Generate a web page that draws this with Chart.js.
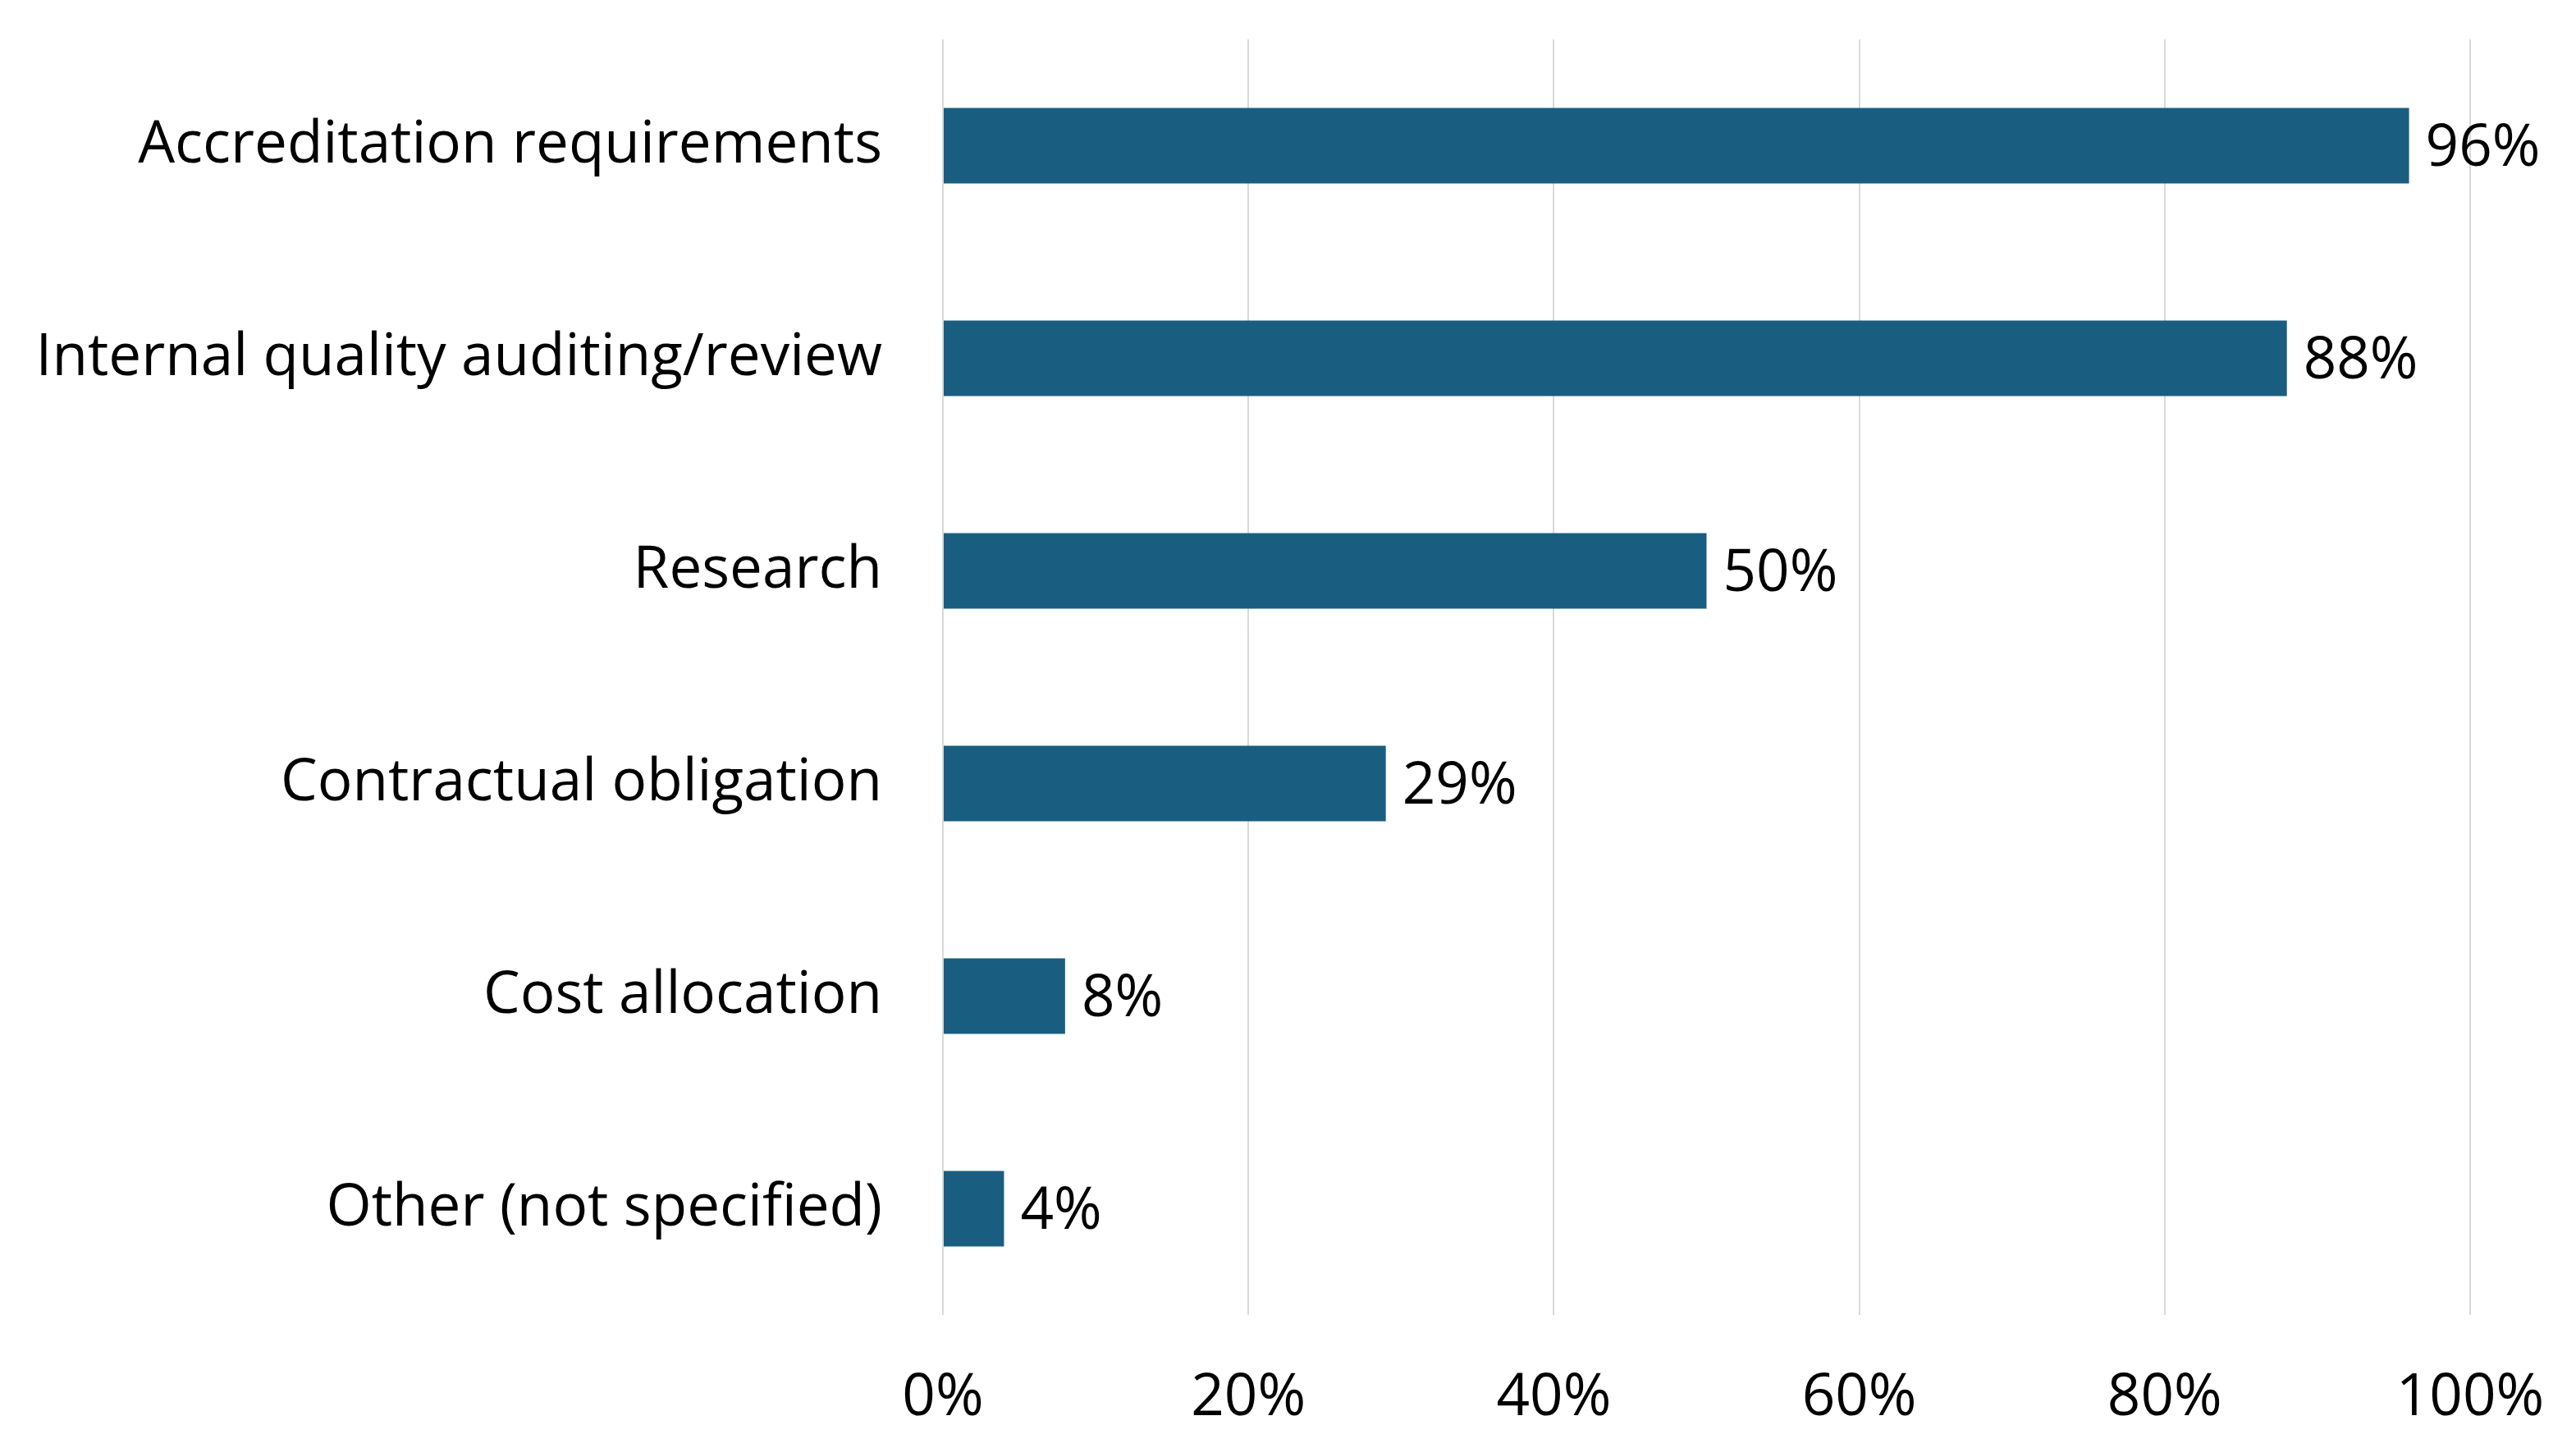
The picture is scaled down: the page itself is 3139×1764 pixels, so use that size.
<!DOCTYPE html>
<html>
<head>
<meta charset="utf-8">
<script src="https://cdn.jsdelivr.net/npm/chart.js@4"></script>
<style>
  html, body { margin: 0; padding: 0; background: #fff; }
  #wrap { width: 3139px; height: 1764px; }
</style>
</head>
<body>
<div id="wrap"><canvas id="chart"></canvas></div>
<script>
// Categories and values (percent)
const categories = [
    'Accreditation requirements',
    'Internal quality auditing/review',
    'Research',
    'Contractual obligation',
    'Cost allocation',
    'Other (not specified)'
];
const values = [96, 88, 50, 29, 8, 4];
const xTicks = [0, 20, 40, 60, 80, 100];

const FONT = '"Open Sans", sans-serif';
const FONT_SIZE = 71;

// Draws the value labels at the end of each bar
const valueLabels = {
    id: 'valueLabels',
    afterDatasetsDraw(chart) {
        const { ctx } = chart;
        const meta = chart.getDatasetMeta(0);
        ctx.save();
        ctx.font = FONT_SIZE + 'px ' + FONT;
        ctx.fillStyle = '#000';
        ctx.textAlign = 'left';
        ctx.textBaseline = 'middle';
        meta.data.forEach((bar, i) => {
            ctx.fillText(values[i] + '%', bar.x + 20, bar.y + 4);
        });
        ctx.restore();
    }
};

const ctx = document.getElementById('chart').getContext('2d');
new Chart(ctx, {
    type: 'bar',
    data: {
        labels: categories,
        datasets: [{
            data: values,
            backgroundColor: '#195e80',
            borderWidth: 0,
            barPercentage: 0.355,
            categoryPercentage: 1
        }]
    },
    options: {
        indexAxis: 'y',
        responsive: true,
        maintainAspectRatio: false,
        animation: false,
        layout: { padding: { top: 48, right: 129, bottom: 0, left: 0 } },
        plugins: {
            legend: { display: false },
            tooltip: { enabled: false }
        },
        scales: {
            x: {
                min: 0,
                max: 100,
                afterBuildTicks: (axis) => { axis.ticks = xTicks.map(v => ({ value: v })); },
                grid: { color: '#d9d9d9', lineWidth: 2, drawTicks: false },
                border: { display: false },
                ticks: {
                    callback: v => v + '%',
                    color: '#000',
                    font: { family: FONT, size: FONT_SIZE },
                    padding: 59
                },
                afterFit: (axis) => {
                    axis.height = 162;
                    axis.paddingLeft = 0;
                    axis.paddingRight = 0;
                }
            },
            y: {
                grid: { display: false, drawTicks: false },
                border: { display: false },
                ticks: {
                    color: '#000',
                    font: { family: FONT, size: FONT_SIZE },
                    padding: 74
                },
                afterFit: (axis) => {
                    axis.width = 1149;
                    axis.paddingTop = 0;
                    axis.paddingBottom = 0;
                }
            }
        }
    },
    plugins: [valueLabels]
});
</script>
</body>
</html>
